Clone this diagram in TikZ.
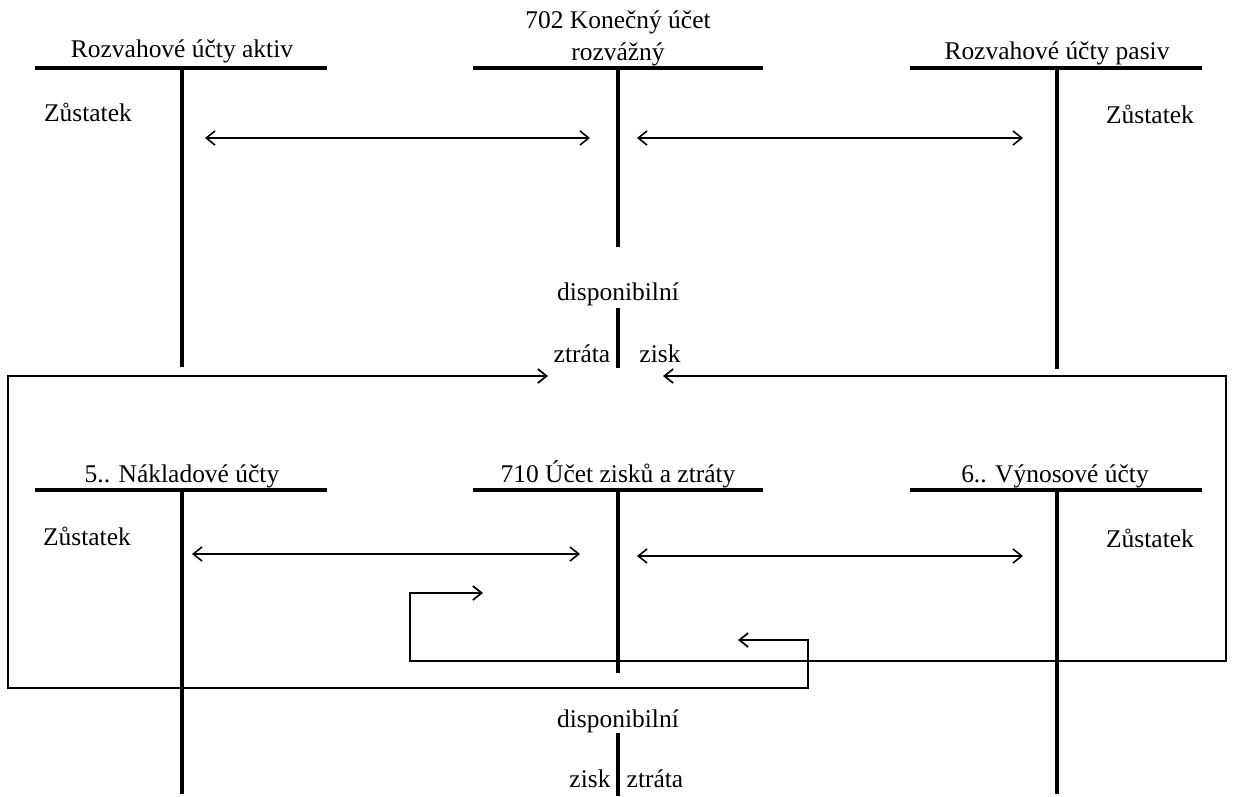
\documentclass[tikz,border=0pt]{standalone}
\usepackage{fontspec}
\setmainfont{Liberation Serif}
\usetikzlibrary{arrows.meta}

\begin{document}
\begin{tikzpicture}[x=0.02cm,y=-0.02cm,
  every node/.style={font=\fontsize{14.5}{17}\selectfont,inner sep=0pt,anchor=base},
  tbar/.style={line width=1.8pt},
  link/.style={line width=0.9pt,{Straight Barb[length=5pt,width=8pt]}-{Straight Barb[length=5pt,width=8pt]}},
  loop/.style={line width=1pt,{Straight Barb[length=5pt,width=8pt]}-{Straight Barb[length=5pt,width=8pt]}}]

\useasboundingbox (0,0) rectangle (1242,796);

\def\xL{182}
\def\xM{618}
\def\xR{1057}
\def\yT{68}
\def\yB{490}

% balance sheet accounts
\node (aktiv) at (\xL,57) {Rozvahové účty aktiv};
\node (konecny) at (\xM,28) {702 Konečný účet};
\node (rozvazny) at (\xM,60) {rozvážný};
\node (pasiv) at (\xR,59) {Rozvahové účty pasiv};

\draw[tbar] (35,\yT) -- (327,\yT);
\draw[tbar] (\xL,\yT) -- (\xL,367);
\draw[tbar] (473,\yT) -- (763,\yT);
\draw[tbar] (\xM,\yT) -- (\xM,247);
\draw[tbar] (910,\yT) -- (1202,\yT);
\draw[tbar] (\xR,\yT) -- (\xR,369);

\node (zustA) at (88,121) {Zůstatek};
\node (zustP) at (1150,123) {Zůstatek};

\coordinate (a1) at (205,138);
\coordinate (a2) at (590,138);
\coordinate (a3) at (637,138);
\coordinate (a4) at (1023,138);
\draw[link] (a1) -- (a2);
\draw[link] (a3) -- (a4);

% result of 702
\node (disp1) at (\xM,300) {disponibilní};
\draw[tbar] (\xM,308) -- (\xM,368);
\node (ztrata1) at (582,362) {ztráta};
\node (zisk1) at (660,362) {zisk};

% profit and loss accounts
\node (naklady) at (\xL,482) {5.. Nákladové účty};
\node (zisky) at (\xM,482) {710 Účet zisků a ztráty};
\node (vynosy) at (1055,482) {6.. Výnosové účty};

\draw[tbar] (35,\yB) -- (327,\yB);
\draw[tbar] (\xL,\yB) -- (\xL,794);
\draw[tbar] (473,\yB) -- (763,\yB);
\draw[tbar] (\xM,\yB) -- (\xM,673);
\draw[tbar] (910,\yB) -- (1202,\yB);
\draw[tbar] (\xR,\yB) -- (\xR,794);

\node (zustN) at (87,545) {Zůstatek};
\node (zustV) at (1150,547) {Zůstatek};

\coordinate (b1) at (192,554);
\coordinate (b2) at (580,554);
\coordinate (b3) at (637,556);
\coordinate (b4) at (1023,556);
\draw[link] (b1) -- (b2);
\draw[link] (b3) -- (b4);

% transfers of loss and profit
\coordinate (c1) at (548,376);
\coordinate (c2) at (738,640);
\draw[loop] (c1) -- (8,376) -- (8,688) -- (808,688) -- (808,640) -- (c2);

\coordinate (d1) at (663,376);
\coordinate (d2) at (483,593);
\draw[loop] (d1) -- (1226,376) -- (1226,661) -- (410,661) -- (410,593) -- (d2);

% result of 710
\node (disp2) at (\xM,727) {disponibilní};
\draw[tbar] (\xM,733) -- (\xM,796);
\node (zisk2) at (590,787) {zisk};
\node (ztrata2) at (655,787) {ztráta};

\end{tikzpicture}
\end{document}
